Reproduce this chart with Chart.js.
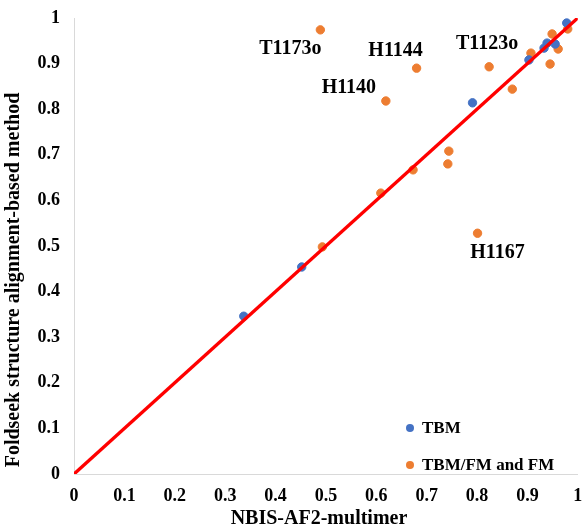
<!DOCTYPE html>
<html><head><meta charset="utf-8">
<script src="https://cdn.jsdelivr.net/npm/chart.js@4/dist/chart.umd.min.js"></script>
<style>html,body{margin:0;padding:0;background:#fff}#wrap{width:583px;height:531px}</style>
</head><body><div id="wrap"><canvas id="c" width="583" height="531"></canvas></div>
<script>
// TBM series (x = NBIS-AF2-multimer, y = Foldseek)
const tbmX = [0.337, 0.452, 0.791, 0.903, 0.933, 0.939, 0.955, 0.978];
const tbmY = [0.346, 0.454, 0.814, 0.908, 0.934, 0.945, 0.943, 0.989];
// TBM/FM and FM series
const fmX = [0.493, 0.609, 0.673, 0.744, 0.742, 0.870, 0.619, 0.680, 0.824, 0.945, 0.489, 0.801, 0.907, 0.949, 0.961, 0.980];
const fmY = [0.498, 0.616, 0.667, 0.708, 0.680, 0.844, 0.818, 0.890, 0.893, 0.899, 0.974, 0.528, 0.923, 0.965, 0.932, 0.976];
// labelled targets: name and index into the FM series
const labelNames = ['T1173o', 'H1144', 'H1140', 'T1123o', 'H1167'];
const labelIdx = [10, 7, 6, 8, 11];
const xTicks = [0, 0.1, 0.2, 0.3, 0.4, 0.5, 0.6, 0.7, 0.8, 0.9, 1];
const seriesNames = ['TBM', 'TBM/FM and FM'];
const xTitle = 'NBIS-AF2-multimer';
const yTitle = 'Foldseek structure alignment-based method';

const labelOffsets = [[-30, 19], [-21, -17], [-37, -13], [-2, -23], [20, 20]];
const SERIF = '"Liberation Serif", "Times New Roman", serif';

const pts = (xs, ys) => xs.map((x, i) => ({x, y: ys[i]}));

const overlay = {
  id: 'overlay',
  afterDatasetsDraw(chart) {
    const {ctx, scales} = chart;
    ctx.save();
    ctx.fillStyle = '#000';
    ctx.font = 'bold 20px ' + SERIF;
    ctx.textAlign = 'center';
    ctx.textBaseline = 'middle';
    labelNames.forEach((n, k) => {
      const i = labelIdx[k];
      const px = scales.x.getPixelForValue(fmX[i]);
      const py = scales.y.getPixelForValue(fmY[i]);
      ctx.fillText(n, px + labelOffsets[k][0], py + labelOffsets[k][1]);
    });
    // axis titles
    ctx.font = 'bold 20px ' + SERIF;
    ctx.fillText(xTitle, 319, 519);
    ctx.save();
    ctx.translate(14, 280);
    ctx.rotate(-Math.PI / 2);
    ctx.fillText(yTitle, 0, 0);
    ctx.restore();
    // legend inside plot
    const legendX = 410, legendY = [428, 465];
    ctx.font = 'bold 17px ' + SERIF;
    ctx.textAlign = 'left';
    [0, 1].forEach(d => {
      const ds = chart.data.datasets[d];
      ctx.beginPath();
      ctx.arc(legendX, legendY[d], 4, 0, Math.PI * 2);
      ctx.fillStyle = ds.backgroundColor;
      ctx.fill();
      ctx.fillStyle = '#000';
      ctx.fillText(seriesNames[d], legendX + 12, legendY[d] + 1);
    });
    ctx.restore();
  }
};

new Chart(document.getElementById('c'), {
  type: 'scatter',
  data: {
    datasets: [
      {label: seriesNames[0], data: pts(tbmX, tbmY), backgroundColor: '#4472C4', borderColor: '#4472C4', pointRadius: 4.2, order: 2},
      {label: seriesNames[1], data: pts(fmX, fmY), backgroundColor: '#ED7D31', borderColor: '#ED7D31', pointRadius: 4.2, order: 3},
      {type: 'line', label: 'y=x', data: [{x: 0, y: 0}, {x: 1, y: 1}], borderColor: '#FF0000', borderWidth: 3.4, pointRadius: 0, order: 1}
    ]
  },
  options: {
    responsive: false,
    animation: false,
    layout: {padding: {top: 18, right: 2, left: 0, bottom: 0}},
    plugins: {legend: {display: false}, tooltip: {enabled: false}},
    scales: {
      x: {
        type: 'linear', min: 0, max: 1,
        afterBuildTicks(s) { s.ticks = xTicks.map(v => ({value: v})); },
        afterFit(s) { s.height = 57; s.paddingLeft = 0; s.paddingRight = 0; },
        grid: {display: false, drawTicks: false},
        border: {display: true, color: '#D9D9D9', width: 1},
        ticks: {color: '#000', font: {family: SERIF, size: 18, weight: 'bold'}, padding: 12, maxRotation: 0, autoSkip: false, callback: v => String(v)},
        title: {display: false}
      },
      y: {
        type: 'linear', min: 0, max: 1,
        afterBuildTicks(s) { s.ticks = xTicks.map(v => ({value: v})); },
        afterFit(s) { s.width = 74; s.paddingTop = 0; s.paddingBottom = 0; },
        grid: {display: false, drawTicks: false},
        border: {display: true, color: '#D9D9D9', width: 1},
        ticks: {color: '#000', font: {family: SERIF, size: 18, weight: 'bold'}, padding: 14, autoSkip: false, callback: v => String(v)},
        title: {display: false}
      }
    }
  },
  plugins: [overlay]
});
</script></body></html>
